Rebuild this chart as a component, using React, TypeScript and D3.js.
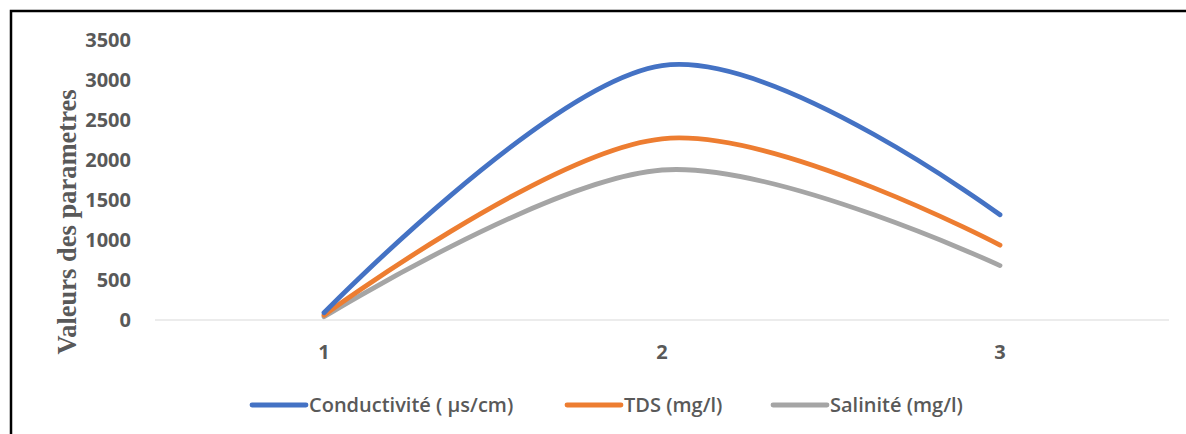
import {useEffect, useRef} from "react";
import * as d3 from "d3";

const categories = ["1", "2", "3"];
const conductivite = [90, 3180, 1315];
const tds = [60, 2265, 935];
const salinite = [40, 1875, 680];
const yTicks = [0, 500, 1000, 1500, 2000, 2500, 3000, 3500];
const seriesNames = ["Conductivité ( µs/cm)", "TDS (mg/l)", "Salinité (mg/l)"];
const seriesColors = ["#4472C4", "#ED7D31", "#A5A5A5"];

function App() {
    const myNode = useRef<HTMLDivElement>(null);

    useEffect(() => {
        const width = 1186;
        const height = 434;
        d3.select(myNode.current).selectAll('*').remove();

        const svg = d3.select(myNode.current)
            .append('svg')
            .attr('width', width)
            .attr('height', height)
            .style('display', 'block');

        svg.append('rect').attr('width', width).attr('height', height).attr('fill', '#fff');

        // outer frame (only top and left are in the picture)
        svg.append('path')
            .attr('d', `M11,${height} L11,11 L${width},11`)
            .attr('fill', 'none')
            .attr('stroke', '#000')
            .attr('stroke-width', 2.5);

        const xScale = d3.scaleBand()
            .domain(categories)
            .range([155, 1169]);

        const yScale = d3.scaleLinear()
            .domain([0, 3500])
            .range([320, 40]);

        const textColor = "#595959";
        const font = "'Open Sans', 'Noto Sans', sans-serif";

        // baseline
        svg.append('line')
            .attr('x1', 155).attr('x2', 1169)
            .attr('y1', yScale(0)).attr('y2', yScale(0))
            .attr('stroke', '#d9d9d9')
            .attr('stroke-width', 1.2);

        svg.append('g')
            .selectAll('text')
            .data(yTicks)
            .enter()
            .append('text')
            .attr('x', 131)
            .attr('y', d => yScale(d))
            .attr('dy', '0.36em')
            .attr('text-anchor', 'end')
            .attr('font-family', font)
            .attr('font-weight', 'bold')
            .attr('font-size', 20)
            .attr('fill', textColor)
            .text(d => d);

        svg.append('g')
            .selectAll('text')
            .data(categories)
            .enter()
            .append('text')
            .attr('x', d => (xScale(d) as number) + xScale.bandwidth() / 2)
            .attr('y', 359)
            .attr('text-anchor', 'middle')
            .attr('font-family', font)
            .attr('font-weight', 'bold')
            .attr('font-size', 20)
            .attr('fill', textColor)
            .text(d => d);

        svg.append('text')
            .attr('transform', 'translate(76,222) rotate(-90)')
            .attr('text-anchor', 'middle')
            .attr('font-family', "'Liberation Serif', 'Times New Roman', serif")
            .attr('font-weight', 'bold')
            .attr('font-size', 26.5)
            .attr('fill', textColor)
            .text('Valeurs des parametres');

        const line = d3.line<number>()
            .x((d, i) => (xScale(categories[i]) as number) + xScale.bandwidth() / 2)
            .y(d => yScale(d))
            .curve(d3.curveCardinal.tension(0));

        const allSeries = [conductivite, tds, salinite];
        // draw grey first so blue sits on top
        [2, 1, 0].forEach(k => {
            svg.append('path')
                .datum(allSeries[k])
                .attr('d', line)
                .attr('fill', 'none')
                .attr('stroke', seriesColors[k])
                .attr('stroke-width', 4.8)
                .attr('stroke-linecap', 'round');
        });

        // legend
        const legendX = [252, 567, 773];
        const legend = svg.append('g');
        seriesNames.forEach((name, k) => {
            legend.append('line')
                .attr('x1', legendX[k]).attr('x2', legendX[k] + 54)
                .attr('y1', 405).attr('y2', 405)
                .attr('stroke', seriesColors[k])
                .attr('stroke-width', 4.8)
                .attr('stroke-linecap', 'round');
            legend.append('text')
                .attr('x', legendX[k] + 57)
                .attr('y', 412)
                .attr('font-family', font)
                .attr('font-weight', 600)
                .attr('font-size', 20)
                .attr('fill', textColor)
                .text(name);
        });
    }, []);

    return (
        <div ref={myNode} style={{position: 'absolute', left: 0, top: 0}}></div>
    );
}

export default App;
